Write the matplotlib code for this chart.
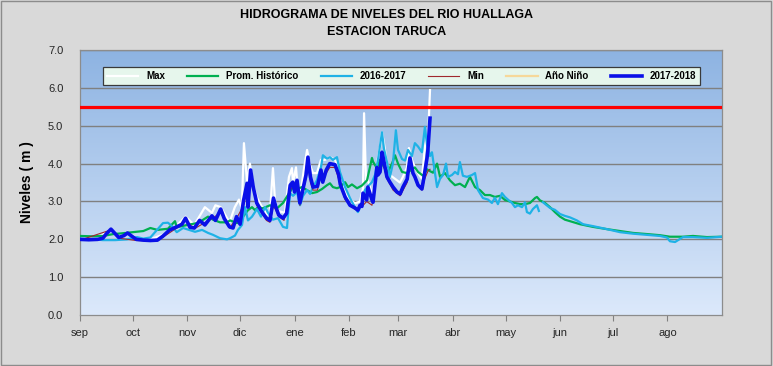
import numpy as np
import matplotlib
matplotlib.use("Agg")
import matplotlib.pyplot as plt
from matplotlib.colors import LinearSegmentedColormap
from matplotlib.patches import Rectangle

plt.rcParams['font.family'] = ['Liberation Sans', 'DejaVu Sans']

# dias desde el 1 de setiembre
meses = ['sep', 'oct', 'nov', 'dic', 'ene', 'feb', 'mar', 'abr', 'may', 'jun', 'jul', 'ago']
inicio_mes = [0, 30, 61, 91, 122, 153, 181, 212, 242, 273, 303, 334]
nivel_alerta = 5.5

# 2017-2018
d_1718 = [0, 5, 10, 13, 15, 17.6, 20, 22, 25, 27, 29, 32, 36, 40, 44, 47, 51, 55, 58, 60,
          62.5, 65, 68, 71, 75, 77, 80, 82, 85, 87, 89, 91, 93, 95, 95.5, 97, 98.5, 100.5,
          103.5, 106, 108, 110, 111.4, 113, 115.5, 117.5, 119.5, 121, 122, 123.4, 125, 127,
          128.5, 129.6, 131, 132.5, 135, 137, 138, 140, 142, 145, 147, 148, 150.7, 153.5,
          156.3, 158, 159.2, 160.3, 160.9, 163, 163.7, 166, 166.6, 168.8, 169.4, 170.6,
          171.7, 172.3, 174.5, 176.2, 178, 180.2, 182, 183.6, 186, 187.6, 189.3, 190.4,
          192.2, 194.4, 195.6, 197.3, 197.8, 199]
v_1718 = [2.0, 1.99, 2.0, 2.03, 2.15, 2.27, 2.15, 2.05, 2.1, 2.17, 2.1, 2.0, 1.98, 1.97, 1.98,
          2.08, 2.25, 2.33, 2.4, 2.56, 2.32, 2.3, 2.5, 2.38, 2.62, 2.5, 2.8, 2.55, 2.33, 2.3,
          2.6, 2.4, 3.03, 3.48, 2.85, 3.83, 3.38, 2.96, 2.72, 2.56, 2.5, 3.09, 2.85, 2.64,
          2.56, 2.69, 3.43, 3.51, 3.25, 3.56, 2.96, 3.38, 3.7, 4.17, 3.65, 3.38, 3.4, 3.83,
          3.51, 3.83, 4.0, 3.97, 3.72, 3.45, 3.12, 2.9, 2.83, 2.77, 2.9, 2.87, 3.22, 3.04,
          3.38, 3.04, 2.98, 3.9, 3.7, 3.78, 4.3, 4.17, 3.65, 3.51, 3.38, 3.25, 3.2, 3.38,
          3.59, 4.15, 3.75, 3.65, 3.43, 3.33, 3.65, 4.15, 4.36, 5.2]

# Max
d_max = [0, 10, 17.6, 22, 27, 32, 40, 47, 55, 60, 65, 71, 75, 77, 80, 85, 88, 90.4, 92,
         93.2, 95, 96.6, 98.4, 100.6, 103.5, 106.3, 108, 109.7, 110.9, 112.6, 116.5, 118.8,
         120.5, 121.1, 122.8, 123.9, 125.6, 127.3, 129.1, 130.8, 132.5, 134.7, 137, 139.3,
         142.1, 145, 146.7, 149.5, 152.4, 156.3, 159.2, 160.9, 161.5, 162.6, 163.7, 166,
         166.6, 168.8, 170.6, 171.7, 172.8, 174.5, 176.2, 180.2, 181.9, 183.6, 185.9, 187,
         188.7, 190.4, 192.2, 194.4, 196.1, 197.3, 197.8, 199]
v_max = [2.02, 2.02, 2.28, 2.08, 2.2, 2.03, 2.0, 2.12, 2.36, 2.6, 2.38, 2.85, 2.7, 2.9, 2.85,
         2.45, 2.85, 3.05, 2.8, 4.54, 3.5, 4.0, 3.45, 3.1, 2.85, 2.65, 2.7, 3.88, 3.0, 2.75,
         2.7, 3.65, 3.88, 3.5, 3.9, 3.3, 3.3, 3.85, 4.36, 3.95, 3.75, 3.75, 4.1, 4.1, 4.17,
         4.1, 3.9, 3.45, 3.1, 2.95, 3.0, 3.35, 5.33, 3.56, 3.56, 3.2, 3.2, 4.0, 4.44, 4.83,
         4.54, 4.0, 3.7, 3.56, 3.5, 3.65, 3.9, 4.41, 4.1, 3.9, 3.75, 3.6, 4.44, 4.7, 4.6, 5.94]

# Prom. Historico
d_prom = [0, 7, 13, 19, 24, 30, 36, 40, 44, 50, 54, 55, 61, 66.5, 69.4, 72.8, 75.6, 79.6,
          83.6, 85.3, 89.3, 92.7, 95.5, 97.8, 99.5, 101.2, 104, 108, 112, 115.4, 118.2,
          121.1, 123.4, 126.2, 129.1, 131.9, 134.7, 137.6, 140.4, 142.1, 143.8, 146.1, 147.8,
          150.7, 152.4, 154.6, 157.5, 160.3, 163.2, 166, 166.6, 168.8, 170.6, 172.3, 175.1,
          177.4, 179.1, 180.8, 183.1, 185.9, 188.7, 190.4, 192.2, 195, 197.3, 199, 200.7,
          203, 204.7, 207.5, 210.3, 213.2, 216, 218.9, 221.7, 224.6, 227.4, 230.2, 233.1,
          235.9, 238.8, 241.6, 244.5, 247.3, 250.1, 253, 255.8, 258.7, 259.8, 261.5, 264.4,
          267.2, 270, 272.9, 275.7, 278.6, 284.3, 291.6, 299.6, 307, 314.4, 322.3, 329.7,
          335.4, 342.8, 348.5, 356.5, 365]
v_prom = [2.09, 2.08, 2.09, 2.14, 2.16, 2.19, 2.22, 2.3, 2.25, 2.28, 2.48, 2.32, 2.38, 2.43,
          2.5, 2.6, 2.52, 2.45, 2.45, 2.5, 2.43, 2.6, 2.77, 2.85, 2.77, 2.85, 2.82, 2.9, 2.82,
          2.96, 3.17, 3.38, 3.33, 3.38, 3.3, 3.22, 3.25, 3.33, 3.43, 3.48, 3.38, 3.35, 3.38,
          3.51, 3.38, 3.45, 3.35, 3.42, 3.56, 4.15, 4.05, 3.88, 4.1, 3.95, 3.78, 4.0, 4.22,
          4.0, 3.78, 3.75, 3.85, 3.9, 3.78, 3.68, 3.85, 3.8, 3.76, 4.0, 3.65, 3.75, 3.56,
          3.43, 3.47, 3.38, 3.65, 3.38, 3.3, 3.17, 3.17, 3.12, 3.15, 3.04, 3.0, 2.96, 2.93,
          2.93, 2.96, 3.09, 3.12, 3.03, 2.96, 2.85, 2.72, 2.6, 2.52, 2.48, 2.4, 2.33, 2.27,
          2.22, 2.17, 2.14, 2.11, 2.07, 2.07, 2.09, 2.06, 2.07]

# 2016-2017 (con un corte a fines de mayo)
d_1617 = [0, 8, 13, 20, 26.7, 32.4, 36, 40, 43.8, 47.2, 50, 52.3, 55, 58.6, 61.4, 65.4, 69.4,
          72.8, 75.6, 79.6, 83.6, 85.3, 88.1, 89.8, 92.1, 93.8, 95.5, 97.8, 100.6, 102.9,
          105.2, 106.9, 109.7, 112.6, 115.4, 117.7, 118.2, 119.4, 121.1, 123.4, 125.1, 126.8,
          129.1, 130.8, 132.5, 134.7, 137, 138.1, 140.4, 142.1, 143.8, 146.1, 147.8, 150.7,
          153.5, 156.3, 158, 160.3, 162, 163.7, 166, 167.7, 169.4, 171.7, 172.8, 174.5, 176.2,
          177.9, 179.6, 180.8, 183.1, 184.8, 186.5, 188.7, 190.4, 192.2, 194.4, 196.1, 197.3,
          199, 200.1, 201.8, 203, 204.7, 206.4, 208.1, 209.2, 211.5, 213.2, 214.9, 216, 217.7,
          220, 222.9, 224.6, 226.3, 229.1, 232, 234.2, 235.9, 237.6, 239.9, 241.6, 243.3,
          245.6, 247.3, 249, 251.3, 253, 254.1, 255.8, 257.5, 259.8, 260.9, 262, 263.2, 267.2,
          270, 272.9, 275.7, 278.6, 282.5, 286, 291.6, 299.6, 307, 314.4, 322.3, 329.7, 333.7,
          335.4, 338.3, 340, 342.8, 348.5, 356.5, 365]
v_1617 = [2.02, 2.0, 1.98, 1.98, 2.0, 2.06, 2.02, 2.05, 2.25, 2.43, 2.44, 2.35, 2.19, 2.3,
          2.26, 2.2, 2.25, 2.17, 2.12, 2.03, 2.0, 2.03, 2.1, 2.25, 2.38, 2.85, 2.5, 2.6, 2.8,
          2.6, 2.85, 2.7, 2.52, 2.56, 2.33, 2.3, 2.6, 3.22, 3.15, 3.25, 2.9, 3.15, 3.3, 3.2,
          3.38, 3.56, 3.9, 4.22, 4.13, 4.17, 4.1, 4.17, 3.78, 3.38, 3.09, 2.85, 2.72, 2.95,
          3.3, 3.4, 3.51, 3.7, 4.1, 4.83, 4.4, 4.05, 3.65, 4.0, 4.88, 4.36, 4.12, 4.08, 4.36,
          4.2, 4.54, 4.45, 4.3, 4.97, 4.5, 4.2, 4.3, 3.75, 3.38, 3.6, 3.7, 4.0, 3.65, 3.7,
          3.78, 3.72, 4.04, 3.68, 3.65, 3.7, 3.75, 3.3, 3.09, 3.05, 2.96, 3.1, 2.93, 3.22,
          3.12, 3.05, 2.96, 2.85, 2.9, 2.85, 2.98, 2.72, 2.68, 2.8, 2.9, 2.75, np.nan, 2.98,
          2.83, 2.78, 2.67, 2.62, 2.58, 2.5, 2.4, 2.35, 2.27, 2.19, 2.15, 2.12, 2.09, 2.05,
          1.95, 1.93, 1.98, 2.06, 2.06, 2.04, 2.07]

# Min
d_min = [0, 17.6, 22, 32, 44, 55, 60, 65, 75, 80, 85, 89, 93, 95, 97, 100.5, 106, 108, 110,
         113, 116, 119.5, 121, 123.4, 125, 128.5, 129.6, 131, 132.5, 135, 137, 140, 142, 145,
         147, 150.7, 156, 160, 163, 166, 168.8, 171.7, 174.5, 178, 182, 186, 187.6, 190.4,
         194.4, 196, 197.8, 199]
v_min = [1.98, 2.25, 2.03, 1.97, 1.96, 2.3, 2.5, 2.28, 2.55, 2.7, 2.3, 2.55, 2.9, 3.3, 3.6,
         2.9, 2.5, 2.45, 2.9, 2.6, 2.5, 3.3, 3.4, 3.45, 2.9, 3.6, 3.95, 3.5, 3.3, 3.3, 3.7,
         3.75, 3.9, 3.9, 3.6, 3.05, 2.8, 2.85, 3.0, 2.9, 3.75, 4.1, 3.6, 3.3, 3.15, 3.5, 4.0,
         3.6, 3.3, 3.6, 3.8, 3.85]

# Anio Nino (no se ve en el grafico)
d_nino = []
v_nino = []

fig = plt.figure(figsize=(7.73, 3.66), dpi=100, facecolor='#d9d9d9')
fig.patches.append(Rectangle((0.001, 0.002), 0.997, 0.995, transform=fig.transFigure,
                             fill=False, edgecolor='#8c8c8c', lw=1))
ax = fig.add_axes([0.1035, 0.139, 0.8305, 0.7245])

# fondo degradado del area de trazado
cmap = LinearSegmentedColormap.from_list('fondo', ['#dce9fb', '#8db3e2'])
ax.imshow(np.linspace(0, 1, 256)[:, None], extent=[0, 1, 0, 1], origin='lower',
          transform=ax.transAxes, aspect='auto', cmap=cmap, zorder=0)

for y in range(1, 8):
    ax.axhline(y, color='#808080', lw=1.0, zorder=1)

ax.plot(d_max, v_max, color='white', lw=1.6, label='Max', zorder=2)
ax.plot(d_prom, v_prom, color='#00b050', lw=1.6, label='Prom. Histórico', zorder=3)
ax.plot(d_1617, v_1617, color='#1fb2e6', lw=1.6, label='2016-2017', zorder=4)
ax.plot(d_min, v_min, color='#a0282d', lw=0.8, label='Min', zorder=5)
ax.plot(d_nino, v_nino, color='#f6d89a', lw=1.6, label='Año Niño', zorder=6)
ax.plot(d_1718, v_1718, color='#0a10e8', lw=2.6, label='2017-2018', zorder=7)
ax.axhline(nivel_alerta, color='#ff0000', lw=2.3, zorder=8)

ax.set_xlim(0, 365)
ax.set_ylim(0, 7)
ax.set_yticks(range(0, 8))
ax.set_yticklabels([f'{v:.1f}' for v in range(0, 8)])
ax.set_xticks(inicio_mes)
ax.set_xticklabels(meses)
ax.tick_params(axis='y', length=0, labelsize=8, pad=12, colors='#262626')
ax.tick_params(axis='x', length=4, direction='out', labelsize=8, pad=5, colors='#808080',
               labelcolor='#262626')
for s in ax.spines.values():
    s.set_color('#8c8c8c')
    s.set_linewidth(0.9)

ax.set_ylabel('Niveles ( m )', fontsize=10, fontweight='bold', labelpad=10)

leg = ax.legend(loc='lower left', bbox_to_anchor=(0.036, 0.868, 0.93, 0.102), mode='expand',
                ncol=6, fontsize=7, frameon=True, fancybox=False, framealpha=1,
                facecolor='#e6f6ec', edgecolor='#3a3a3a', handlelength=3.2,
                borderaxespad=0, prop={'weight': 'bold', 'size': 7})
leg.set_zorder(10)
leg.get_frame().set_linewidth(0.9)

fig.text(0.5, 0.958, 'HIDROGRAMA DE NIVELES DEL RIO HUALLAGA', ha='center', va='center',
         fontsize=9, fontweight='bold')
fig.text(0.5, 0.913, 'ESTACION TARUCA', ha='center', va='center', fontsize=9,
         fontweight='bold')

fig.savefig('out.png', dpi=100, facecolor=fig.get_facecolor())
